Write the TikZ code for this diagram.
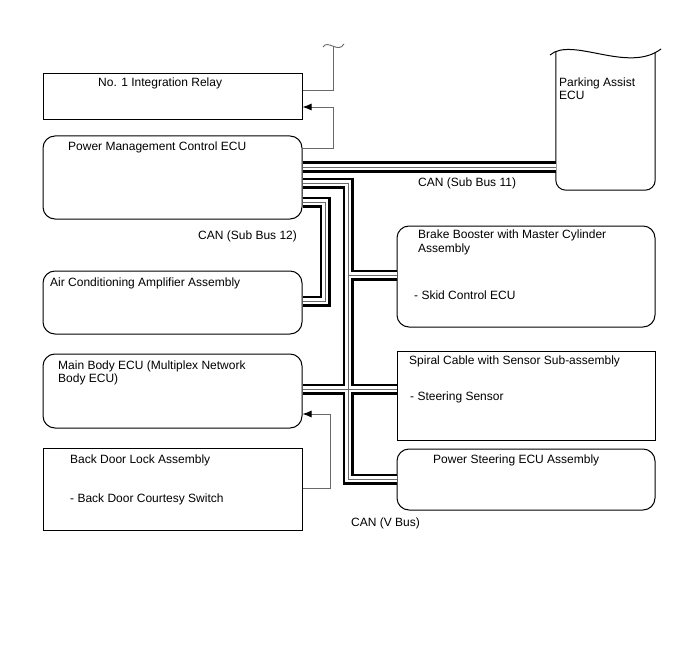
\documentclass[tikz,border=0pt]{standalone}
\usepackage{fontspec}
\setmainfont{Liberation Sans}
\usetikzlibrary{arrows.meta}
\definecolor{wire}{RGB}{105,105,105}
\tikzset{
  unit/.style={draw, line width=1pt, minimum width=259pt, inner sep=0pt},
  ecu/.style={unit, rounded corners=12pt},
  lbl/.style={anchor=base west, inner sep=0pt, font=\fontsize{12}{14}\selectfont},
  sig/.style={wire, line width=0.9pt},
  sigarrow/.style={sig, -{Latex[length=9pt,width=7pt,color=black]}},
}

\begin{document}
\begin{tikzpicture}[x=1pt, y=-1pt]
\useasboundingbox (0,0) rectangle (688,658);
% Left-hand units
\node[unit, minimum height=46pt] (relay) at (172.5,97) {};
\node[ecu, minimum height=83pt] (pmc) at (172.5,177.5) {};
\node[ecu, minimum height=63pt] (ac) at (172.5,302.5) {};
\node[ecu, minimum height=74pt] (body) at (172.5,391) {};
\node[unit, minimum height=82pt] (door) at (172.5,489) {};
% Right-hand units
\node[ecu, minimum width=258pt, minimum height=101pt] (brake) at (526,276.5) {};
\node[unit, minimum width=258pt, minimum height=89pt] (spiral) at (526,395.5) {};
\node[ecu, minimum width=258pt, minimum height=61pt] (steer) at (526,479.5) {};
% Parking Assist ECU (cut off at the top)
\node[minimum width=99pt, minimum height=138pt, inner sep=0pt] (park) at (605.5,121) {};
\draw[line width=1pt] (park.north west) [rounded corners=10pt] -- (park.south west) -- (park.south east) -- (park.north east);
\draw[line width=1pt] (550,55) .. controls (572,36) and (628,74) .. (661,49);
% Bus points
\coordinate (b11) at (0,167);
\coordinate (vtop) at (348,183);
\coordinate (vbot) at (348,479);
\coordinate (vbrk) at (348,275);
\coordinate (vmid) at (348,389);
\coordinate (s12a) at (325,202);
\coordinate (s12b) at (325,301);
% CAN lines
\foreach \lw/\col in {11/black,6/white,0.8/wire}{
  \draw[line width=\lw pt, \col] (pmc.east |- b11) -- (park.west |- b11);
  \draw[line width=\lw pt, \col] (pmc.east |- vtop) -- (vtop) -- (vbot) -- (steer.west |- vbot);
  \draw[line width=\lw pt, \col] (vbrk) -- (brake.west |- vbrk);
  \draw[line width=\lw pt, \col] (body.east |- vmid) -- (spiral.west |- vmid);
  \draw[line width=\lw pt, \col] (pmc.east |- s12a) -- (s12a) -- (s12b) -- (ac.east |- s12b);
}
% Signal wires
\coordinate (cut) at (333,47);
\coordinate (w1) at (333,90);
\coordinate (w2) at (333,107);
\coordinate (w3) at (333,148);
\coordinate (w4) at (330,488);
\coordinate (w5) at (330,414);
\draw[sig] (relay.east |- w1) -- (w1) -- (cut);
\draw[sig] (323,47) .. controls (328,39) and (338,54) .. (344,44);
\draw[sigarrow] (pmc.east |- w3) -- (w3) -- (w2) -- (relay.east |- w2);
\draw[sigarrow] (door.east |- w4) -- (w4) -- (w5) -- (body.east |- w5);
% Labels
\node[lbl] (relay-t) at (98,87) {No. 1 Integration Relay};
\node[lbl] (pmc-t) at (68,150) {Power Management Control ECU};
\node[lbl] (ac-t) at (50,286) {Air Conditioning Amplifier Assembly};
\node[lbl] (body-t1) at (58,369) {Main Body ECU (Multiplex Network};
\node[lbl] (body-t2) at (58,382) {Body ECU)};
\node[lbl] (door-t1) at (70,463) {Back Door Lock Assembly};
\node[lbl] (door-t2) at (70,502) {- Back Door Courtesy Switch};
\node[lbl] (park-t1) at (559,87) {Parking Assist};
\node[lbl] (park-t2) at (559,100) {ECU};
\node[lbl] (brake-t1) at (418,238) {Brake Booster with Master Cylinder};
\node[lbl] (brake-t2) at (418,252) {Assembly};
\node[lbl] (brake-t3) at (414,299) {- Skid Control ECU};
\node[lbl] (spiral-t1) at (409,364) {Spiral Cable with Sensor Sub-assembly};
\node[lbl] (spiral-t2) at (410,400) {- Steering Sensor};
\node[lbl] (steer-t) at (433,463) {Power Steering ECU Assembly};
\node[lbl] (can11) at (418,186) {CAN (Sub Bus 11)};
\node[lbl] (can12) at (198,239) {CAN (Sub Bus 12)};
\node[lbl] (canv) at (351,526) {CAN (V Bus)};
\end{tikzpicture}
\end{document}
